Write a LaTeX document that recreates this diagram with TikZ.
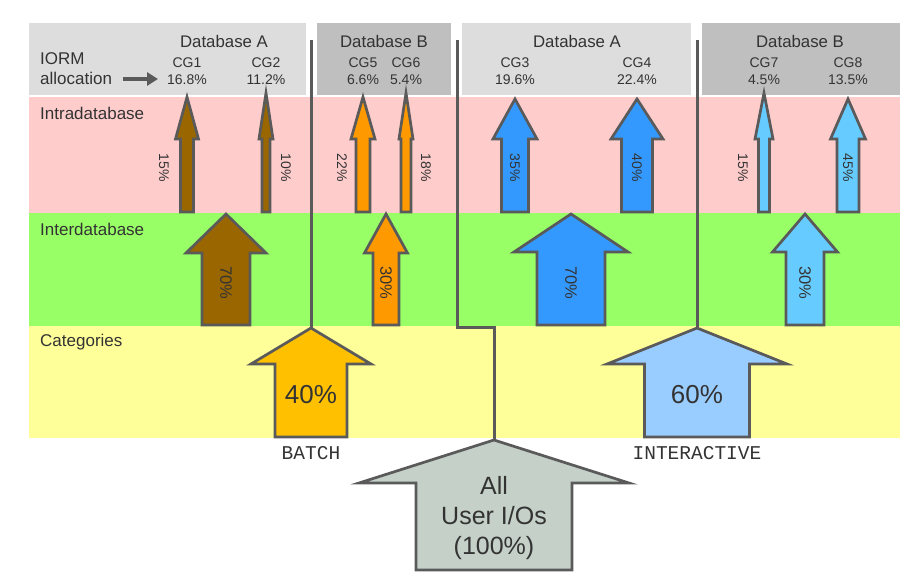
\documentclass[tikz,border=0pt]{standalone}
\usepackage{fontspec}
\setmainfont{Liberation Sans}
\setmonofont{Liberation Mono}
\usetikzlibrary{arrows.meta}
\definecolor{txt}{HTML}{333333}
\definecolor{edge}{HTML}{5A5A5A}
\definecolor{hdrA}{HTML}{DDDDDD}
\definecolor{hdrB}{HTML}{BFBFBF}
\definecolor{bandPink}{HTML}{FFCCCC}
\definecolor{bandGreen}{HTML}{99FF66}
\definecolor{bandYellow}{HTML}{FFFF99}
\definecolor{cBrown}{HTML}{996600}
\definecolor{cOrange}{HTML}{FF9900}
\definecolor{cBlue}{HTML}{3399FF}
\definecolor{cLBlue}{HTML}{66CCFF}
\definecolor{cBatch}{HTML}{FFC000}
\definecolor{cInter}{HTML}{99CCFF}
\definecolor{cAll}{HTML}{C4D0C8}
\newcommand{\blockarrow}[7]{%
  \draw[arrowshape, fill=#7] (#1,#2) -- (#1+#5,#3) -- (#1+#6,#3) -- (#1+#6,#4)
    -- (#1-#6,#4) -- (#1-#6,#3) -- (#1-#5,#3) -- cycle;}
\tikzset{
  arrowshape/.style={draw=edge, line width=2.7pt, line join=miter},
  divider/.style={draw=edge, line width=3pt},
  hdr/.style={text=txt, font=\fontsize{16.8}{20}\selectfont, inner sep=0pt},
  cg/.style={text=txt, font=\fontsize{14}{16.5}\selectfont, align=center, inner sep=0pt},
  band/.style={text=txt, font=\fontsize{17}{20}\selectfont, anchor=west, inner sep=0pt},
  pct/.style={text=txt, font=\fontsize{14}{16}\selectfont, rotate=-90, inner sep=0pt},
  pctbig/.style={text=txt, font=\fontsize{16.5}{19}\selectfont, rotate=-90, inner sep=0pt},
  cat/.style={text=txt, font=\fontsize{26}{30}\selectfont, inner sep=0pt},
  mono/.style={text=txt, font=\ttfamily\fontsize{19.5}{22}\selectfont, inner sep=0pt},
}
\begin{document}
\begin{tikzpicture}[x=1pt,y=-1pt]
\useasboundingbox (0,0) rectangle (918,576);
% header boxes
\fill[hdrA] (29,23) rectangle (306,95);
\fill[hdrB] (317,23) rectangle (451,95);
\fill[hdrA] (462,23) rectangle (691,95);
\fill[hdrB] (702,23) rectangle (900,95);
% bands
\fill[bandPink] (29,97) rectangle (900,213);
\fill[bandGreen] (29,213) rectangle (900,326);
\fill[bandYellow] (29,326) rectangle (900,438);
% band labels
\node[band] (lintra) at (40,113) {Intradatabase};
\node[band] (linter) at (40,229) {Interdatabase};
\node[band] (lcat) at (40,342) {Categories};
\node[band] (liorm) at (40,59) {IORM};
\node[band] (lalloc) at (40,78) {allocation};
\coordinate (aStart) at (123,79);
\coordinate (aEnd) at (158,79);
\draw[edge, line width=4pt, -{Triangle[length=11pt,width=13pt]}] (aStart) -- (aEnd);
% header texts
\node[hdr] (dbA1) at (224,41) {Database A};
\node[hdr] (dbB1) at (384,41) {Database B};
\node[hdr] (dbA2) at (577,41) {Database A};
\node[hdr] (dbB2) at (800,41) {Database B};
\node[cg] (cg1) at (187,71) {CG1\\16.8\%};
\node[cg] (cg2) at (266,71) {CG2\\11.2\%};
\node[cg] (cg5) at (363,71) {CG5\\6.6\%};
\node[cg] (cg6) at (406,71) {CG6\\5.4\%};
\node[cg] (cg3) at (515,71) {CG3\\19.6\%};
\node[cg] (cg4) at (637,71) {CG4\\22.4\%};
\node[cg] (cg7) at (764,71) {CG7\\4.5\%};
\node[cg] (cg8) at (848,71) {CG8\\13.5\%};
% dividers
\coordinate (d1top) at (311,40);
\coordinate (d2top) at (457,40);
\coordinate (d3top) at (697,40);
\coordinate (batchTip) at (311,328);
\coordinate (interTip) at (697,328);
\coordinate (allTip) at (494,440);
\draw[divider] (d1top) -- (batchTip);
\draw[divider] (d3top) -- (interTip);
\draw[divider, line join=miter] (d2top) -- (457,327) -- (494,327) -- (allTip);
% intradatabase arrows
\blockarrow{187}{97}{139}{212}{11.5}{6.5}{cBrown}
\blockarrow{266}{93}{139}{212}{7}{4}{cBrown}
\blockarrow{363}{97}{139}{212}{12}{7}{cOrange}
\blockarrow{406}{93}{139}{212}{7}{5}{cOrange}
\blockarrow{515}{99}{139}{212}{22}{13.5}{cBlue}
\blockarrow{637}{99}{139}{212}{26}{15.5}{cBlue}
\blockarrow{764}{93}{139}{212}{9}{5.5}{cLBlue}
\blockarrow{848}{99}{139}{212}{17.5}{11}{cLBlue}
% interdatabase arrows
\blockarrow{226}{214}{253}{325}{40}{24}{cBrown}
\blockarrow{386}{214}{253}{325}{21.5}{13}{cOrange}
\blockarrow{571}{214}{252}{325}{57}{34}{cBlue}
\blockarrow{805}{214}{252}{325}{32.5}{19}{cLBlue}
% category arrows
\blockarrow{311}{328}{364}{437}{60}{36}{cBatch}
\blockarrow{697}{328}{364}{437}{90}{52.5}{cInter}
% all arrow
\blockarrow{494}{440}{483}{570}{135}{78}{cAll}
% percentages
\node[pct] (p15a) at (164,168) {15\%};
\node[pct] (p10) at (286,168) {10\%};
\node[pct] (p22) at (342,168) {22\%};
\node[pct] (p18) at (426,168) {18\%};
\node[pct] (p35) at (515,168) {35\%};
\node[pct] (p40) at (637,168) {40\%};
\node[pct] (p15b) at (743,168) {15\%};
\node[pct] (p45) at (848,168) {45\%};
\node[pctbig] (i70a) at (226,283) {70\%};
\node[pctbig] (i30a) at (386,283) {30\%};
\node[pctbig] (i70b) at (571,283) {70\%};
\node[pctbig] (i30b) at (805,283) {30\%};
\node[cat] (c40) at (311,395) {40\%};
\node[cat] (c60) at (697,395) {60\%};
\node[mono] (batch) at (311,453) {BATCH};
\node[mono] (inter) at (697,453) {INTERACTIVE};
\node[cat, align=center, font=\fontsize{25}{30}\selectfont] (all) at (494,518) {All\\User I/Os\\(100\%)};
\end{tikzpicture}
\end{document}
